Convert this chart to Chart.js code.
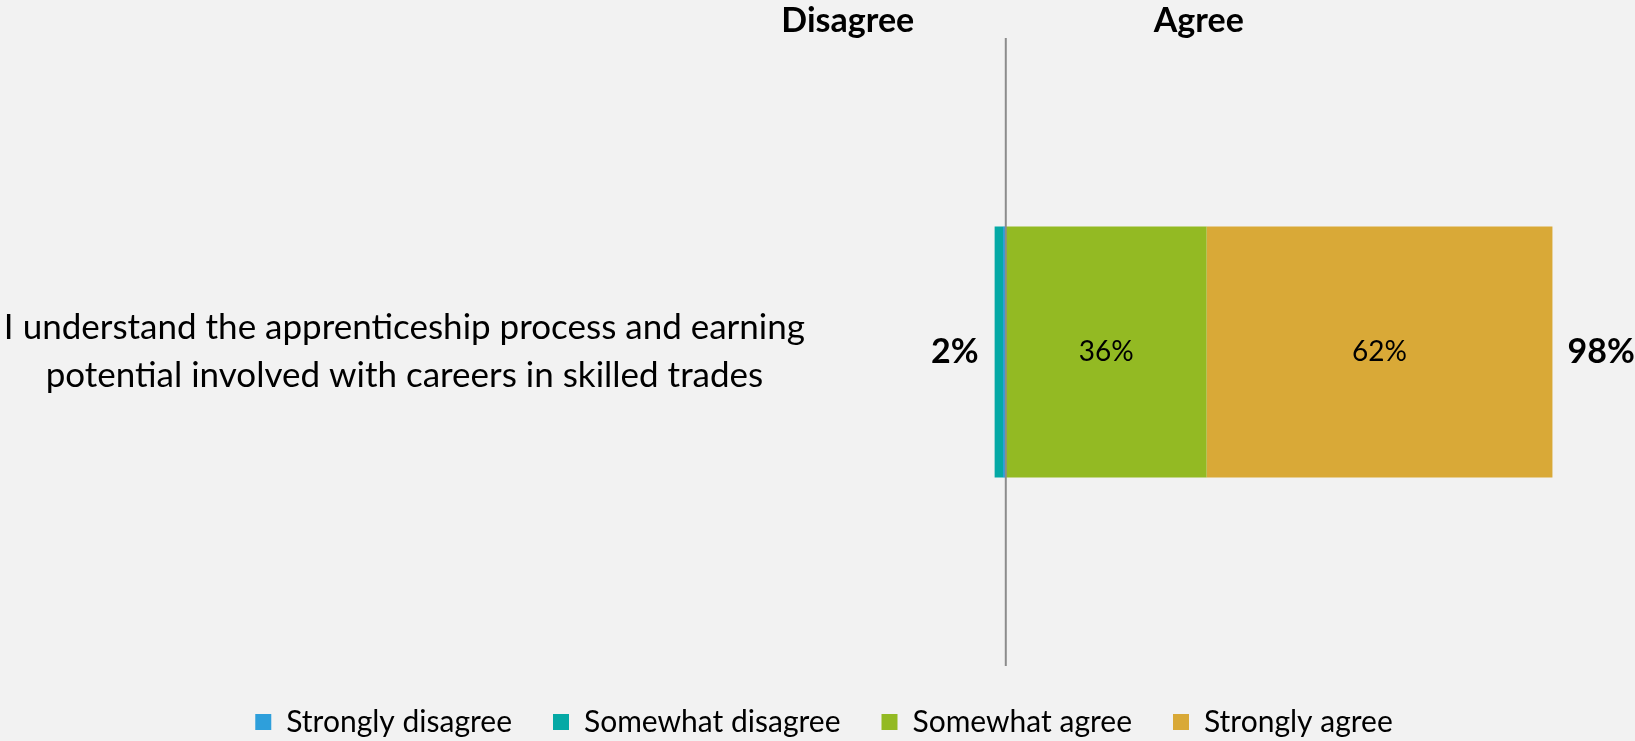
<!DOCTYPE html>
<html>
<head>
<meta charset="utf-8">
<script src="https://cdn.jsdelivr.net/npm/chart.js@4/dist/chart.umd.min.js"></script>
<style>
  html, body { margin: 0; padding: 0; background: #f2f2f2; }
  #wrap { width: 1635px; height: 741px; position: relative; }
</style>
</head>
<body>
<div id="wrap"><canvas id="chart"></canvas></div>
<script>
// Survey statement (split over two lines as shown on the axis)
const categories = [[
  'I understand the apprenticeship process and earning',
  'potential involved with careers in skilled trades'
]];

// Response shares in percent; disagreement is plotted to the left of zero
const stronglyDisagree = [0.5];
const somewhatDisagree = [1.5];
const somewhatAgree = [36];
const stronglyAgree = [62];

const seriesNames = ['Strongly disagree', 'Somewhat disagree', 'Somewhat agree', 'Strongly agree'];
const seriesColors = ['#2e9fdb', '#05a9a5', '#93ba23', '#d9a937'];
const sideHeadings = ['Disagree', 'Agree'];

const FONT = 'Lato, "Open Sans", sans-serif';

// Vertical divider at zero plus the side headings above it
const dividerPlugin = {
  id: 'divider',
  afterDatasetsDraw(chart) {
    const { ctx, chartArea, scales } = chart;
    const x0 = scales.x.getPixelForValue(0);
    ctx.save();
    ctx.strokeStyle = '#8c8c8c';
    ctx.lineWidth = 2;
    ctx.beginPath();
    ctx.moveTo(x0, chartArea.top);
    ctx.lineTo(x0, chartArea.bottom);
    ctx.stroke();

    ctx.fillStyle = '#000';
    ctx.font = 'bold 34px ' + FONT;
    ctx.textAlign = 'center';
    ctx.textBaseline = 'middle';
    ctx.fillText(sideHeadings[0], x0 - 158, 21);
    ctx.fillText(sideHeadings[1], x0 + 193, 21);
    ctx.restore();
  }
};

// Segment values inside the agree bars, and side totals at the bar ends
const labelPlugin = {
  id: 'segmentLabels',
  afterDatasetsDraw(chart) {
    const { ctx } = chart;
    ctx.save();
    ctx.fillStyle = '#000';
    ctx.textBaseline = 'middle';

    [2, 3].forEach(di => {
      const meta = chart.getDatasetMeta(di);
      meta.data.forEach((bar, i) => {
        const v = chart.data.datasets[di].data[i];
        ctx.font = '28px ' + FONT;
        ctx.textAlign = 'center';
        ctx.fillText(Math.round(v) + '%', (bar.x + bar.base) / 2, bar.y);
      });
    });

    categories.forEach((c, i) => {
      const dis = stronglyDisagree[i] + somewhatDisagree[i];
      const agr = somewhatAgree[i] + stronglyAgree[i];
      const leftBar = chart.getDatasetMeta(1).data[i];
      const rightBar = chart.getDatasetMeta(3).data[i];
      ctx.font = 'bold 34px ' + FONT;
      ctx.textAlign = 'right';
      ctx.fillText(Math.round(dis) + '%', Math.min(leftBar.x, leftBar.base) - 16, leftBar.y);
      ctx.textAlign = 'left';
      ctx.fillText(Math.round(agr) + '%', Math.max(rightBar.x, rightBar.base) + 15, rightBar.y);
    });
    ctx.restore();
  }
};

const bg = {
  id: 'bg',
  beforeDraw(chart) {
    const { ctx, width, height } = chart;
    ctx.save();
    ctx.fillStyle = '#f2f2f2';
    ctx.fillRect(0, 0, width, height);
    ctx.restore();
  }
};

function drawChart() {
  new Chart(document.getElementById('chart'), {
    type: 'bar',
    data: {
      labels: categories,
      datasets: [
        { label: seriesNames[0], data: stronglyDisagree.map(v => -v), backgroundColor: seriesColors[0] },
        { label: seriesNames[1], data: somewhatDisagree.map(v => -v), backgroundColor: seriesColors[1] },
        { label: seriesNames[2], data: somewhatAgree, backgroundColor: seriesColors[2] },
        { label: seriesNames[3], data: stronglyAgree, backgroundColor: seriesColors[3] }
      ]
    },
    options: {
      indexAxis: 'y',
      responsive: true,
      maintainAspectRatio: false,
      animation: false,
      datasets: { bar: { categoryPercentage: 1, barPercentage: 0.4, borderWidth: 0 } },
      layout: { padding: { top: 38, right: -13, left: 0, bottom: -6 } },
      scales: {
        x: {
          stacked: true,
          min: -10,
          max: 112.8,
          display: false
        },
        y: {
          stacked: true,
          grid: { display: false },
          border: { display: false },
          ticks: {
            color: '#000',
            font: { family: FONT, size: 35, lineHeight: 1.37 },
            crossAlign: 'center',
            padding: 137
          },
          afterFit(scale) {
            scale.width = 950;
            scale.paddingTop = 0;
            scale.paddingBottom = 0;
          }
        }
      },
      plugins: {
        legend: {
          position: 'bottom',
          labels: {
            color: '#000',
            boxWidth: 16,
            boxHeight: 16,
            padding: 41,
            font: { family: FONT, size: 30 }
          }
        },
        tooltip: { enabled: false }
      }
    },
    plugins: [bg, dividerPlugin, labelPlugin]
  });
}

// Make sure the label font is ready before text is measured
Promise.all([
  document.fonts.load('30px Lato'),
  document.fonts.load('35px Lato'),
  document.fonts.load('bold 34px Lato')
]).then(drawChart, drawChart);
</script>
</body>
</html>
